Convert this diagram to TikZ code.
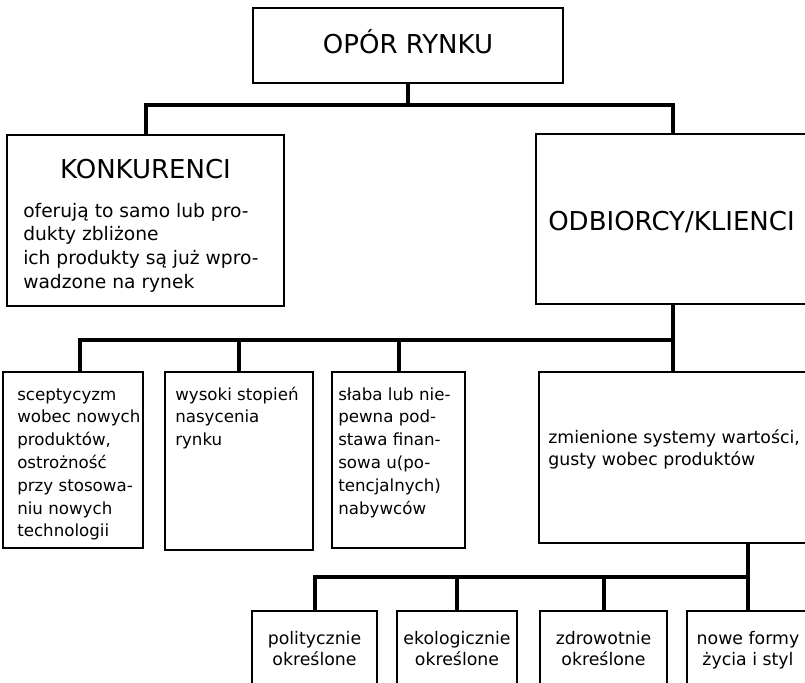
\documentclass[tikz,border=0pt]{standalone}
\usepackage{fontspec}
\setmainfont{DejaVu Sans}
\usetikzlibrary{fit}
\begin{document}
\begin{tikzpicture}[x=0.75pt,y=-0.75pt,
  box/.style={draw, line width=1.6pt, inner sep=0pt, rectangle},
  conn/.style={line width=3pt},
  title/.style={inner sep=0pt, font=\fontsize{19.5}{23}\selectfont},
  txt/.style={inner sep=0pt, anchor=base west},
  ctxt/.style={inner sep=0pt, anchor=base},
  bodyA/.style={font=\fontsize{14}{17.8}\selectfont},
  bodyB/.style={font=\fontsize{12.5}{17.1}\selectfont},
  bodyC/.style={font=\fontsize{13}{16.5}\selectfont},
  bodyD/.style={font=\fontsize{13}{15.75}\selectfont}]
\useasboundingbox (0,0) rectangle (805,682);

% boxes
\node[box, fit={(253,8) (563,83)}] (top) {};
\node[box, fit={(7,135) (284,306)}] (konk) {};
\node[box, fit={(536,134) (810,304)}] (odb) {};
\node[box, fit={(3,372) (143,548)}] (r1) {};
\node[box, fit={(165,372) (313,550)}] (r2) {};
\node[box, fit={(332,372) (465,548)}] (r3) {};
\node[box, fit={(539,372) (807,543)}] (r4) {};
\node[box, fit={(252,611) (377,700)}] (b1) {};
\node[box, fit={(397,611) (517,700)}] (b2) {};
\node[box, fit={(540,611) (667,700)}] (b3) {};
\node[box, fit={(687,611) (809,700)}] (b4) {};

% bus coordinates
\coordinate (bus1) at (408,105);
\coordinate (bus2) at (673,340);
\coordinate (bus3) at (748,577);
\coordinate (r1top) at (80,372);

% connectors
\draw[conn] (top.south) -- (bus1);
\draw[conn] (konk.north) |- (bus1) -| (odb.north);
\draw[conn] (odb.south) -- (r4.north);
\draw[conn] (r1top) |- (bus2);
\draw[conn] (r2.north) -- (r2.north |- bus2);
\draw[conn] (r3.north) -- (r3.north |- bus2);
\draw[conn] (b4.north) -- (b4.north |- r4.south);
\draw[conn] (b1.north) |- (bus3);
\draw[conn] (b2.north) -- (b2.north |- bus3);
\draw[conn] (b3.north) -- (b3.north |- bus3);

% titles
\node[title, anchor=base] (topT) at (408,53) {OPÓR RYNKU};
\node[title, anchor=base] (konkT) at (145.5,178) {KONKURENCI};
\node[title, anchor=base west] (odbT) at (548,230) {ODBIORCY/KLIENCI};

% body texts
\node[txt, bodyA] (konkB) at (23,217) {\begin{tabular}[t]{@{}l@{}}oferują to samo lub pro-\\ dukty zbliżone\\ ich produkty są już wpro-\\ wadzone na rynek\end{tabular}};
\node[txt, bodyB] (r1T) at (17,400) {\begin{tabular}[t]{@{}l@{}}sceptycyzm\\ wobec nowych\\ produktów,\\ ostrożność\\ przy stosowa-\\ niu nowych\\ technologii\end{tabular}};
\node[txt, bodyB] (r2T) at (175,400) {\begin{tabular}[t]{@{}l@{}}wysoki stopień\\ nasycenia\\ rynku\end{tabular}};
\node[txt, bodyB] (r3T) at (338,400) {\begin{tabular}[t]{@{}l@{}}słaba lub nie-\\ pewna pod-\\ stawa finan-\\ sowa u(po-\\ tencjalnych)\\ nabywców\end{tabular}};
\node[txt, bodyC] (r4T) at (548,443) {\begin{tabular}[t]{@{}l@{}}zmienione systemy wartości,\\ gusty wobec produktów\end{tabular}};

\node[ctxt, bodyD] (b1T) at (314.5,644) {\begin{tabular}[t]{@{}c@{}}politycznie\\ określone\end{tabular}};
\node[ctxt, bodyD] (b2T) at (457,644) {\begin{tabular}[t]{@{}c@{}}ekologicznie\\ określone\end{tabular}};
\node[ctxt, bodyD] (b3T) at (603.5,644) {\begin{tabular}[t]{@{}c@{}}zdrowotnie\\ określone\end{tabular}};
\node[ctxt, bodyD] (b4T) at (748,644) {\begin{tabular}[t]{@{}c@{}}nowe formy\\ życia i styl\end{tabular}};
\end{tikzpicture}
\end{document}
